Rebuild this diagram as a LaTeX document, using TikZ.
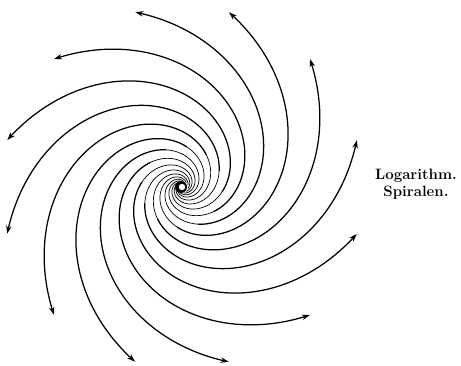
\documentclass[tikz,border=0pt]{standalone}
\usetikzlibrary{arrows.meta}
\begin{document}
\begin{tikzpicture}[x=1pt,y=1pt,
  spiralin/.style={line width=0.7pt},
  spiralout/.style={line width=1.25pt,-{Stealth[length=8pt,width=5.5pt]}},
  spirtext/.style={font=\fontsize{15}{17}\selectfont\bfseries, align=center, inner sep=0pt}]
\useasboundingbox (0,0) rectangle (461,366);
\coordinate (c) at (182,179);
\foreach \p in {15,45,...,345}{
  \draw[spiralin] plot[domain=-6.8:-2.9,samples=110,variable=\t]
    ({182+181*exp(0.5*\t)*cos(deg(\t)+\p)},{179+181*exp(0.5*\t)*sin(deg(\t)+\p)});
  \draw[spiralout] plot[domain=-3:0,samples=80,variable=\t]
    ({182+181*exp(0.5*\t)*cos(deg(\t)+\p)},{179+181*exp(0.5*\t)*sin(deg(\t)+\p)});
}
\fill ([xshift=-1pt]c) circle (6);
\fill[white] (c) circle (3.2);
\node[spirtext] (lbl) at (416,182) {Logarithm.\\Spiralen.};
\end{tikzpicture}
\end{document}
